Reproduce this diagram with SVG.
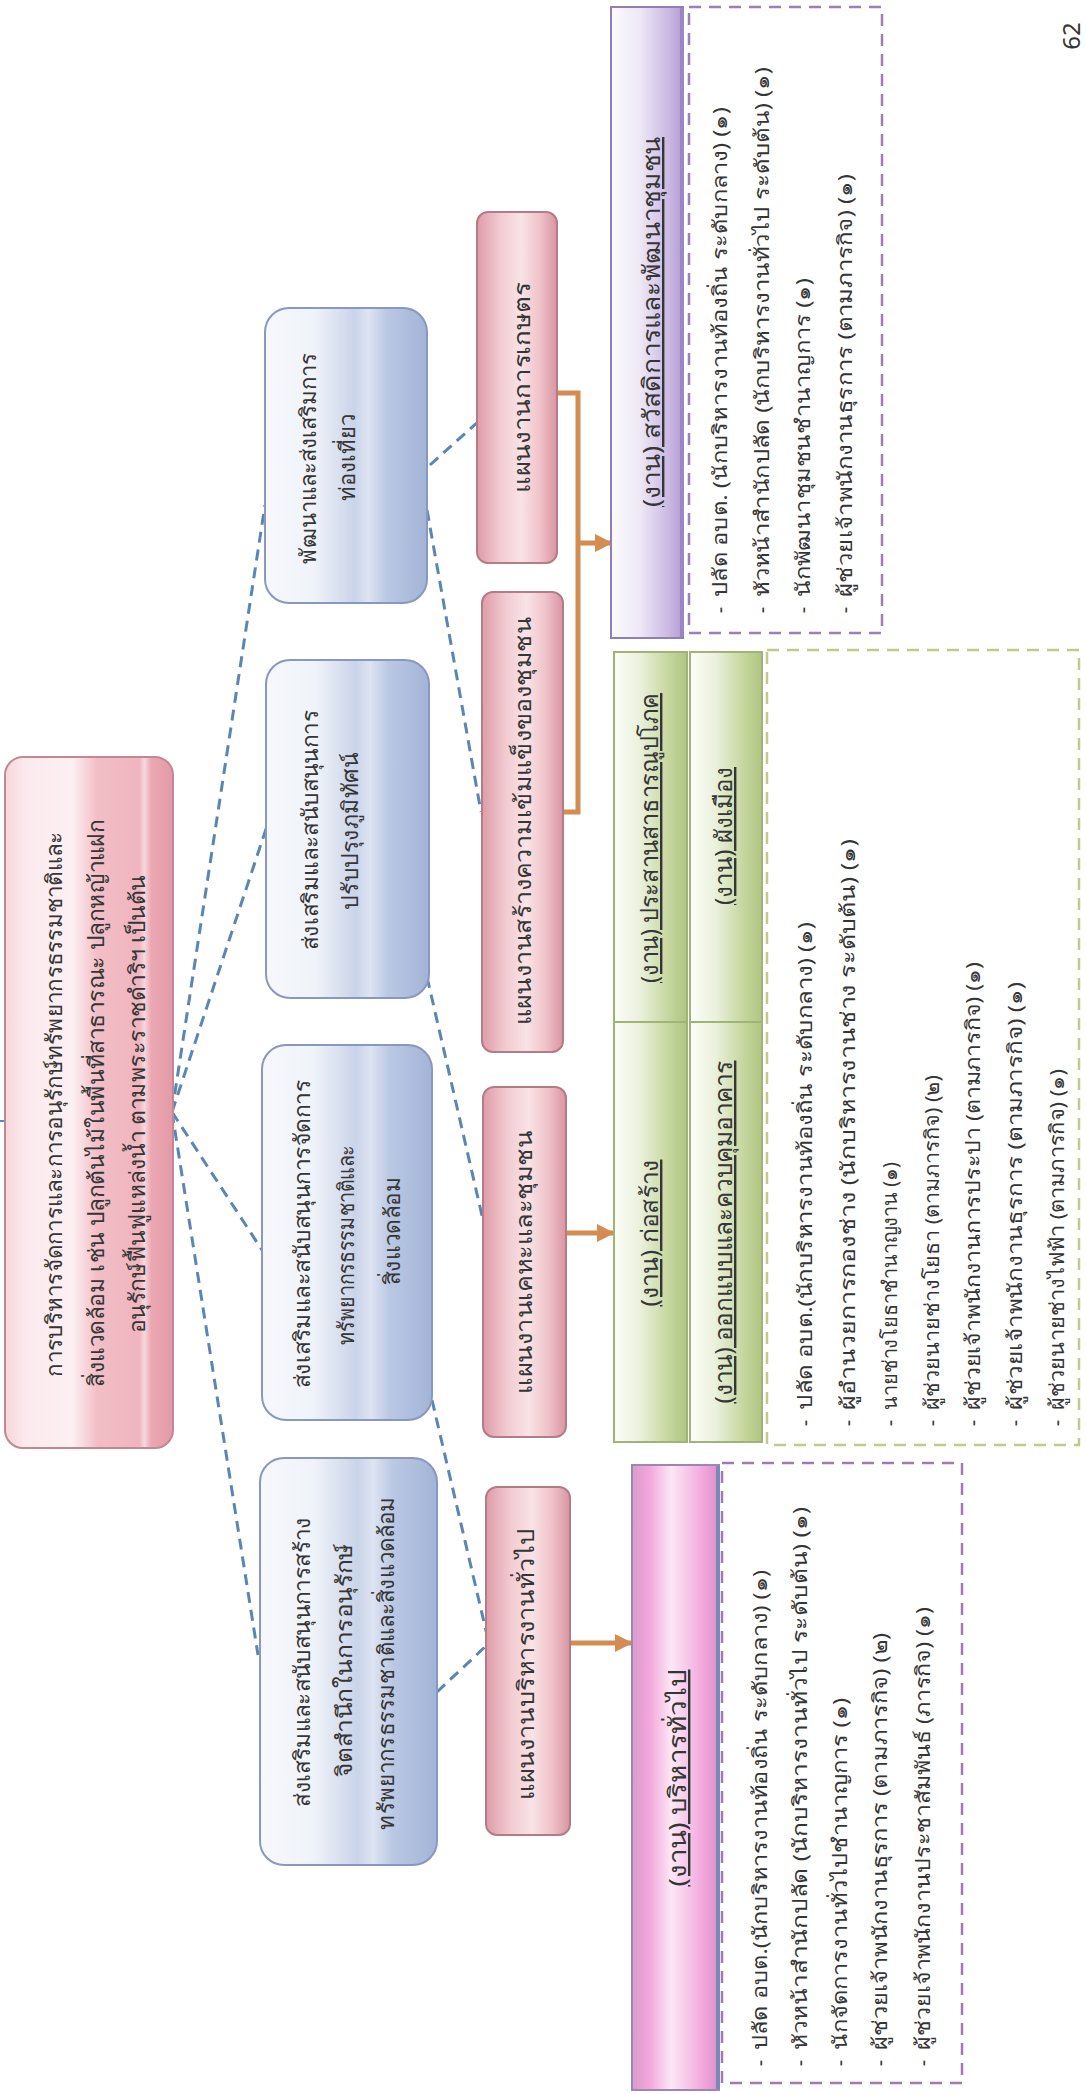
<svg xmlns="http://www.w3.org/2000/svg" width="1086" height="2094" viewBox="0 0 1086 2094">
<defs>
<linearGradient id="gTop" x1="0" y1="0" x2="1" y2="0">
<stop offset="0" stop-color="#F6D6DC"/><stop offset="0.12" stop-color="#FBEAED"/><stop offset="0.4" stop-color="#FCF0F2"/><stop offset="0.55" stop-color="#F2BEC6"/><stop offset="0.8" stop-color="#F0B5BF"/><stop offset="0.83" stop-color="#F7D8DD"/><stop offset="0.87" stop-color="#EBA8B3"/><stop offset="1" stop-color="#E39AA6"/>
</linearGradient>
<linearGradient id="gBlue" x1="0" y1="0" x2="1" y2="0">
<stop offset="0" stop-color="#F6F8FC"/><stop offset="0.3" stop-color="#F0F3F9"/><stop offset="0.55" stop-color="#CAD4E9"/><stop offset="0.64" stop-color="#DDE4F2"/><stop offset="0.75" stop-color="#BAC8E3"/><stop offset="1" stop-color="#A2B4D7"/>
</linearGradient>
<linearGradient id="gPlan" x1="0" y1="0" x2="1" y2="0">
<stop offset="0" stop-color="#DE9CA8"/><stop offset="0.3" stop-color="#F2CCD2"/><stop offset="0.55" stop-color="#F8E3E6"/><stop offset="0.78" stop-color="#F0C3CA"/><stop offset="1" stop-color="#D995A1"/>
</linearGradient>
<linearGradient id="gPurple" x1="0" y1="0" x2="1" y2="0">
<stop offset="0" stop-color="#FBFAFD"/><stop offset="0.4" stop-color="#EEE8F6"/><stop offset="0.8" stop-color="#CAB9E2"/><stop offset="1" stop-color="#B39DD5"/>
</linearGradient>
<linearGradient id="gGreen" x1="0" y1="0" x2="1" y2="0">
<stop offset="0" stop-color="#FCFDF8"/><stop offset="0.35" stop-color="#EBF1DD"/><stop offset="0.75" stop-color="#C5D69D"/><stop offset="1" stop-color="#AFC583"/>
</linearGradient>
<linearGradient id="gMag" x1="0" y1="0" x2="1" y2="0">
<stop offset="0" stop-color="#D99BC9"/><stop offset="0.2" stop-color="#F3A6DC"/><stop offset="0.45" stop-color="#FBE7F6"/><stop offset="0.6" stop-color="#F7CEEB"/><stop offset="0.85" stop-color="#F0A2DA"/><stop offset="1" stop-color="#D98FC8"/>
</linearGradient>
<marker id="arr" viewBox="0 0 10 10" refX="9" refY="5" markerWidth="3.6" markerHeight="3.6" orient="auto" markerUnits="strokeWidth">
<path d="M0,0 L10,5 L0,10 z" fill="#D38C52"/>
</marker>
</defs>
<style>
text{font-family:"Noto Sans","DejaVu Sans",sans-serif;fill:#353535}
.c{text-anchor:middle}
.nt{font-size:22px}
.pt{font-size:23px}
.tt{font-size:24px;text-decoration:underline;text-anchor:middle}
.li{font-size:20px}
.bu{font-size:20px;text-anchor:middle}
.d{fill:none;stroke:#5B86B4;stroke-width:3;stroke-dasharray:11 7}
.o{fill:none;stroke:#D38C52;stroke-width:5}
.top{fill:url(#gTop);stroke:#C28892;stroke-width:2}
.blue{fill:url(#gBlue);stroke:#8A97BF;stroke-width:2}
.plan{fill:url(#gPlan);stroke:#B27D88;stroke-width:2}
.dbox{fill:none;stroke-width:2.5;stroke-dasharray:12 8}
</style>
<rect width="1086" height="2094" fill="#FFFFFF"/>

<g id="connectors">
<path d="M0,1121 H6" fill="none" stroke="#5B86B4" stroke-width="2"/>
<path class="d" d="M172,1112 L265,505"/>
<path class="d" d="M172,1112 L268,823"/>
<path class="d" d="M172,1112 L262,1250"/>
<path class="d" d="M172,1112 L258,1655"/>
<path class="d" d="M430,465 L480,420"/>
<path class="d" d="M427,510 L481,812"/>
<path class="d" d="M427,977 L483,1220"/>
<path class="d" d="M432,1400 L487,1635"/>
<path class="d" d="M437,1692 L487,1645"/>
<path class="o" d="M557,393 H578 V812 H563"/>
<path class="o" d="M578,543 H611" marker-end="url(#arr)"/>
<path class="o" d="M566,1233 H613" marker-end="url(#arr)"/>
<path class="o" d="M570,1643 H631" marker-end="url(#arr)"/>
</g>

<g id="node-top">
<rect class="top" x="5" y="757" width="168" height="691" rx="18"/>
<text class="nt c" transform="translate(62,1104) rotate(-90)" textLength="545" lengthAdjust="spacingAndGlyphs">การบริหารจัดการและการอนุรักษ์ทรัพยากรธรรมชาติและ</text>
<text class="nt c" transform="translate(104,1103) rotate(-90)" textLength="567" lengthAdjust="spacingAndGlyphs">สิ่งแวดล้อม เช่น ปลูกต้นไม้ในพื้นที่สาธารณะ ปลูกหญ้าแฝก</text>
<text class="nt c" transform="translate(145,1104) rotate(-90)" textLength="458" lengthAdjust="spacingAndGlyphs">อนุรักษ์ฟื้นฟูแหล่งน้ำ ตามพระราชดำริฯ เป็นต้น</text>
</g>

<g id="node-b1">
<rect class="blue" x="260" y="1458" width="177" height="407" rx="24"/>
<text class="nt c" transform="translate(310,1662) rotate(-90)" textLength="289" lengthAdjust="spacingAndGlyphs">ส่งเสริมและสนับสนุนการสร้าง</text>
<text class="nt c" transform="translate(352,1660) rotate(-90)" textLength="234" lengthAdjust="spacingAndGlyphs">จิตสำนึกในการอนุรักษ์</text>
<text class="nt c" transform="translate(394,1663) rotate(-90)" textLength="333" lengthAdjust="spacingAndGlyphs">ทรัพยากรธรรมชาติและสิ่งแวดล้อม</text>
</g>
<g id="node-b2">
<rect class="blue" x="262" y="1045" width="170" height="375" rx="24"/>
<text class="nt c" transform="translate(310,1234) rotate(-90)" textLength="308" lengthAdjust="spacingAndGlyphs">ส่งเสริมและสนับสนุนการจัดการ</text>
<text class="nt c" transform="translate(354,1245) rotate(-90)" textLength="200" lengthAdjust="spacingAndGlyphs">ทรัพยากรธรรมชาติและ</text>
<text class="nt c" transform="translate(400,1231) rotate(-90)" textLength="108" lengthAdjust="spacingAndGlyphs">สิ่งแวดล้อม</text>
</g>
<g id="node-b3">
<rect class="blue" x="266" y="660" width="163" height="338" rx="24"/>
<text class="nt c" transform="translate(318,830) rotate(-90)" textLength="240" lengthAdjust="spacingAndGlyphs">ส่งเสริมและสนับสนุนการ</text>
<text class="nt c" transform="translate(358,831) rotate(-90)" textLength="157" lengthAdjust="spacingAndGlyphs">ปรับปรุงภูมิทัศน์</text>
</g>
<g id="node-b4">
<rect class="blue" x="265" y="308" width="162" height="295" rx="24"/>
<text class="nt c" transform="translate(316,458) rotate(-90)" textLength="211" lengthAdjust="spacingAndGlyphs">พัฒนาและส่งเสริมการ</text>
<text class="nt c" transform="translate(355,457) rotate(-90)" textLength="87" lengthAdjust="spacingAndGlyphs">ท่องเที่ยว</text>
</g>

<g id="node-p1">
<rect class="plan" x="486" y="1487" width="84" height="348" rx="11"/>
<text class="pt c" transform="translate(534,1664) rotate(-90)" textLength="272" lengthAdjust="spacingAndGlyphs">แผนงานบริหารงานทั่วไป</text>
</g>
<g id="node-p2">
<rect class="plan" x="483" y="1087" width="83" height="350" rx="11"/>
<text class="pt c" transform="translate(532,1262) rotate(-90)" textLength="263" lengthAdjust="spacingAndGlyphs">แผนงานเคหะและชุมชน</text>
</g>
<g id="node-p3">
<rect class="plan" x="482" y="592" width="81" height="460" rx="11"/>
<text class="pt c" transform="translate(531,821) rotate(-90)" textLength="408" lengthAdjust="spacingAndGlyphs">แผนงานสร้างความเข้มแข็งของชุมชน</text>
</g>
<g id="node-p4">
<rect class="plan" x="477" y="212" width="80" height="351" rx="11"/>
<text class="pt c" transform="translate(530,388) rotate(-90)" textLength="210" lengthAdjust="spacingAndGlyphs">แผนงานการเกษตร</text>
</g>

<g id="task-welfare">
<rect x="611" y="7" width="72" height="631" fill="url(#gPurple)" stroke="#8F7EB8" stroke-width="2"/>
<line x1="682" y1="8" x2="682" y2="637" stroke="#9A86C4" stroke-width="4"/>
<text class="tt" transform="translate(660,322) rotate(-90)" textLength="370" lengthAdjust="spacingAndGlyphs">(งาน) สวัสดิการและพัฒนาชุมชน</text>
<rect class="dbox" x="689" y="7" width="193" height="626" stroke="#9B80B6"/>
<text class="bu" transform="translate(727,610) rotate(-90)">-</text>
<text class="li" transform="translate(727,597) rotate(-90)" textLength="490" lengthAdjust="spacingAndGlyphs">ปลัด อบต. (นักบริหารงานท้องถิ่น ระดับกลาง) (๑)</text>
<text class="bu" transform="translate(769,610) rotate(-90)">-</text>
<text class="li" transform="translate(769,597) rotate(-90)" textLength="530" lengthAdjust="spacingAndGlyphs">หัวหน้าสำนักปลัด (นักบริหารงานทั่วไป ระดับต้น) (๑)</text>
<text class="bu" transform="translate(810,610) rotate(-90)">-</text>
<text class="li" transform="translate(810,597) rotate(-90)" textLength="319" lengthAdjust="spacingAndGlyphs">นักพัฒนาชุมชนชำนาญการ (๑)</text>
<text class="bu" transform="translate(852,610) rotate(-90)">-</text>
<text class="li" transform="translate(852,597) rotate(-90)" textLength="423" lengthAdjust="spacingAndGlyphs">ผู้ช่วยเจ้าพนักงานธุรการ (ตามภารกิจ) (๑)</text>
</g>

<g id="task-works">
<rect x="614" y="652" width="73" height="790" fill="url(#gGreen)" stroke="#A0B477" stroke-width="2"/>
<line x1="614" y1="1022" x2="687" y2="1022" stroke="#A0B477" stroke-width="2"/>
<rect x="690" y="652" width="72" height="790" fill="url(#gGreen)" stroke="#A0B477" stroke-width="2"/>
<line x1="690" y1="1022" x2="762" y2="1022" stroke="#A0B477" stroke-width="2"/>
<text class="tt" transform="translate(658,838) rotate(-90)" textLength="290" lengthAdjust="spacingAndGlyphs">(งาน) ประสานสาธารณูปโภค</text>
<text class="tt" transform="translate(658,1233) rotate(-90)" textLength="147" lengthAdjust="spacingAndGlyphs">(งาน) ก่อสร้าง</text>
<text class="tt" transform="translate(732,836) rotate(-90)" textLength="138" lengthAdjust="spacingAndGlyphs">(งาน) ผังเมือง</text>
<text class="tt" transform="translate(732,1232) rotate(-90)" textLength="343" lengthAdjust="spacingAndGlyphs">(งาน) ออกแบบและควบคุมอาคาร</text>
<rect class="dbox" x="767" y="650" width="312" height="795" stroke="#C3C98A" stroke-width="2"/>
<text class="bu" transform="translate(812,1423) rotate(-90)">-</text>
<text class="li" transform="translate(812,1410) rotate(-90)" textLength="488" lengthAdjust="spacingAndGlyphs">ปลัด อบต.(นักบริหารงานท้องถิ่น ระดับกลาง) (๑)</text>
<text class="bu" transform="translate(855,1423) rotate(-90)">-</text>
<text class="li" transform="translate(855,1410) rotate(-90)" textLength="571" lengthAdjust="spacingAndGlyphs">ผู้อำนวยการกองช่าง (นักบริหารงานช่าง ระดับต้น) (๑)</text>
<text class="bu" transform="translate(897,1423) rotate(-90)">-</text>
<text class="li" transform="translate(897,1410) rotate(-90)" textLength="248" lengthAdjust="spacingAndGlyphs">นายช่างโยธาชำนาญงาน (๑)</text>
<text class="bu" transform="translate(939,1423) rotate(-90)">-</text>
<text class="li" transform="translate(939,1410) rotate(-90)" textLength="335" lengthAdjust="spacingAndGlyphs">ผู้ช่วยนายช่างโยธา (ตามภารกิจ) (๒)</text>
<text class="bu" transform="translate(980,1423) rotate(-90)">-</text>
<text class="li" transform="translate(980,1410) rotate(-90)" textLength="448" lengthAdjust="spacingAndGlyphs">ผู้ช่วยเจ้าพนักงานการประปา (ตามภารกิจ) (๑)</text>
<text class="bu" transform="translate(1022,1423) rotate(-90)">-</text>
<text class="li" transform="translate(1022,1410) rotate(-90)" textLength="428" lengthAdjust="spacingAndGlyphs">ผู้ช่วยเจ้าพนักงานธุรการ (ตามภารกิจ)  (๑)</text>
<text class="bu" transform="translate(1064,1423) rotate(-90)">-</text>
<text class="li" transform="translate(1064,1410) rotate(-90)" textLength="341" lengthAdjust="spacingAndGlyphs">ผู้ช่วยนายช่างไฟฟ้า (ตามภารกิจ) (๑)</text>
</g>

<g id="task-admin">
<rect x="632" y="1465" width="87" height="625" fill="url(#gMag)" stroke="#9C86B6" stroke-width="2"/>
<line x1="718" y1="1466" x2="718" y2="2089" stroke="#7C88B6" stroke-width="4"/>
<text class="tt" transform="translate(686,1778) rotate(-90)" textLength="217" lengthAdjust="spacingAndGlyphs">(งาน) บริหารทั่วไป</text>
<rect class="dbox" x="722" y="1463" width="240" height="620" stroke="#A07AB0"/>
<text class="bu" transform="translate(767,2063) rotate(-90)">-</text>
<text class="li" transform="translate(767,2050) rotate(-90)" textLength="480" lengthAdjust="spacingAndGlyphs">ปลัด อบต.(นักบริหารงานท้องถิ่น ระดับกลาง) (๑)</text>
<text class="bu" transform="translate(807,2063) rotate(-90)">-</text>
<text class="li" transform="translate(807,2050) rotate(-90)" textLength="543" lengthAdjust="spacingAndGlyphs">หัวหน้าสำนักปลัด (นักบริหารงานทั่วไป ระดับต้น) (๑)</text>
<text class="bu" transform="translate(847,2063) rotate(-90)">-</text>
<text class="li" transform="translate(847,2050) rotate(-90)" textLength="352" lengthAdjust="spacingAndGlyphs">นักจัดการงานทั่วไปชำนาญการ (๑)</text>
<text class="bu" transform="translate(887,2063) rotate(-90)">-</text>
<text class="li" transform="translate(887,2050) rotate(-90)" textLength="417" lengthAdjust="spacingAndGlyphs">ผู้ช่วยเจ้าพนักงานธุรการ (ตามภารกิจ) (๒)</text>
<text class="bu" transform="translate(930,2063) rotate(-90)">-</text>
<text class="li" transform="translate(930,2050) rotate(-90)" textLength="443" lengthAdjust="spacingAndGlyphs">ผู้ช่วยเจ้าพนักงานประชาสัมพันธ์ (ภารกิจ) (๑)</text>
</g>

<text style="font-size:24px" class="c" transform="translate(1080,36) rotate(-90)">62</text>
</svg>
